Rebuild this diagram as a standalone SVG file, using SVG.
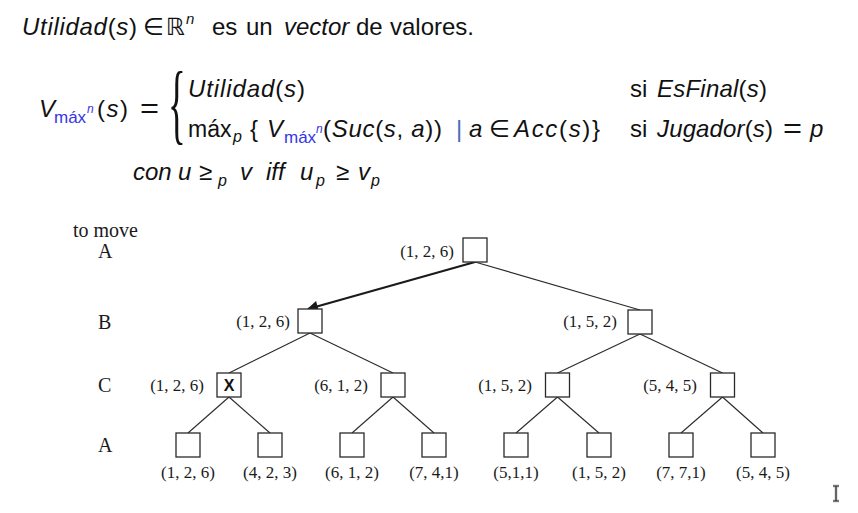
<svg xmlns="http://www.w3.org/2000/svg" width="858" height="513" viewBox="0 0 858 513">
<style>
.m{font-family:"Liberation Sans","DejaVu Sans",sans-serif;font-size:24px;fill:#111}
.i{font-style:italic}
.b{fill:#3535e8}
.bar{fill:#4a6fb5}
.s23{font-size:23px}
.s17{font-size:17px}
.s16{font-size:16px}
.s15{font-size:15px}
.s12{font-size:12px}
.eq{font-size:28px}
.dv{font-family:"DejaVu Sans",sans-serif}
.t{font-family:"Liberation Serif","Times New Roman",serif;font-size:17px;fill:#1a1a1a}
.r{font-family:"Liberation Serif","Times New Roman",serif;font-size:20px;fill:#1a1a1a}
.brace{font-family:"Liberation Serif",serif;font-size:88px;fill:#111}
.x{font-family:"Liberation Sans",sans-serif;font-weight:bold;font-size:16px;fill:#111}
.box{fill:#fff;stroke:#2a2a2a;stroke-width:1.3}
.e{stroke:#2a2a2a;stroke-width:1.1;fill:none}
</style>
<defs>
<marker id="ah" viewBox="0 0 10 10" refX="9" refY="5" markerWidth="6" markerHeight="5" orient="auto" markerUnits="strokeWidth">
<path d="M0,0 L10,5 L0,10 z" fill="#1a1a1a"/>
</marker>
</defs>
<rect width="858" height="513" fill="#fff"/>

<g id="formula">
<text class="m" x="22" y="35" textLength="115"><tspan class="i">Utilidad</tspan>(<tspan class="i">s</tspan>)</text>
<text class="m" y="35"><tspan x="143">∈</tspan><tspan x="166" class="dv">ℝ</tspan></text>
<text class="m i s15" x="186" y="24">n</text>
<text class="m" y="35"><tspan x="212">es</tspan><tspan x="246">un</tspan><tspan x="284" class="i">vector</tspan><tspan x="356">de</tspan><tspan x="390">valores.</tspan></text>

<text class="m i" x="39" y="117">V</text>
<text class="m b s17" x="54" y="123">máx</text>
<text class="m b i s12" x="87" y="113">n</text>
<text class="m" x="97" y="117" textLength="31">(<tspan class="i">s</tspan>)</text>
<text class="m eq" x="140" y="118" textLength="19" lengthAdjust="spacingAndGlyphs">=</text>
<text class="brace" x="0" y="0" transform="translate(168,133) scale(0.42,1)">{</text>

<text class="m" x="188" y="97" textLength="117"><tspan class="i">Utilidad</tspan>(<tspan class="i">s</tspan>)</text>
<text class="m" x="630" y="97">si</text>
<text class="m" x="657" y="97" textLength="110"><tspan class="i">EsFinal</tspan>(<tspan class="i">s</tspan>)</text>

<text class="m s23" x="188" y="137">máx</text>
<text class="m i s16" x="233" y="142">p</text>
<text class="m" x="250" y="137">{</text>
<text class="m i" x="267" y="137">V</text>
<text class="m b s17" x="284" y="143">máx</text>
<text class="m b i s12" x="316" y="133">n</text>
<text class="m" x="323" y="137" textLength="119">(<tspan class="i">Suc</tspan>(<tspan class="i">s</tspan>, <tspan class="i">a</tspan>))</text>
<text class="m bar" x="456" y="137">|</text>
<text class="m i" x="469" y="137">a</text>
<text class="m" x="489" y="137">∈</text>
<text class="m" x="514" y="137" textLength="86"><tspan class="i">Acc</tspan>(<tspan class="i">s</tspan>)}</text>
<text class="m" x="630" y="137">si</text>
<text class="m" x="657" y="137" textLength="116"><tspan class="i">Jugador</tspan>(<tspan class="i">s</tspan>)</text>
<text class="m eq" x="783" y="138" textLength="19" lengthAdjust="spacingAndGlyphs">=</text>
<text class="m i" x="810" y="137">p</text>

<text class="m" y="180"><tspan x="133" class="i">con</tspan><tspan x="178" class="i">u</tspan><tspan x="199">≥</tspan></text>
<text class="m i s16" x="218" y="186">p</text>
<text class="m" y="180"><tspan x="240" class="i">v</tspan><tspan x="266" class="i">iff</tspan><tspan x="300" class="i">u</tspan></text>
<text class="m i s16" x="316" y="186">p</text>
<text class="m" y="180"><tspan x="336">≥</tspan><tspan x="358" class="i">v</tspan></text>
<text class="m i s16" x="371" y="186">p</text>
</g>

<g id="row-labels">
<text class="r" x="73" y="237">to move</text>
<text class="r" x="98" y="258">A</text>
<text class="r" x="98" y="329">B</text>
<text class="r" x="98" y="392">C</text>
<text class="r" x="98" y="452">A</text>
</g>

<g id="connectors">
<line class="e" x1="475" y1="262" x2="640" y2="310"/>
<line x1="475" y1="262" x2="308" y2="309" stroke="#1a1a1a" stroke-width="2.2" marker-end="url(#ah)"/>
<line class="e" x1="310" y1="333" x2="229" y2="373"/>
<line class="e" x1="310" y1="333" x2="393" y2="373"/>
<line class="e" x1="640" y1="334" x2="557.5" y2="373"/>
<line class="e" x1="640" y1="334" x2="722.5" y2="373"/>
<line class="e" x1="229" y1="397" x2="188" y2="433"/>
<line class="e" x1="229" y1="397" x2="270" y2="433"/>
<line class="e" x1="393" y1="397" x2="352" y2="433"/>
<line class="e" x1="393" y1="397" x2="434" y2="433"/>
<line class="e" x1="557.5" y1="397" x2="516" y2="433"/>
<line class="e" x1="557.5" y1="397" x2="599" y2="433"/>
<line class="e" x1="722.5" y1="397" x2="681" y2="433"/>
<line class="e" x1="722.5" y1="397" x2="763" y2="433"/>
</g>

<g id="n-root"><rect class="box" x="463" y="238" width="24" height="24"/><text class="t" x="454" y="257" text-anchor="end">(1, 2, 6)</text></g>
<g id="n-b1"><rect class="box" x="298" y="309" width="24" height="24"/><text class="t" x="290" y="327" text-anchor="end">(1, 2, 6)</text></g>
<g id="n-b2"><rect class="box" x="628" y="310" width="24" height="24"/><text class="t" x="617" y="327" text-anchor="end">(1, 5, 2)</text></g>
<g id="n-c1"><rect class="box" x="217" y="373" width="24" height="24"/><text class="x" x="229" y="391" text-anchor="middle">X</text><text class="t" x="204" y="391" text-anchor="end">(1, 2, 6)</text></g>
<g id="n-c2"><rect class="box" x="381" y="373" width="24" height="24"/><text class="t" x="368" y="391" text-anchor="end">(6, 1, 2)</text></g>
<g id="n-c3"><rect class="box" x="545.5" y="373" width="24" height="24"/><text class="t" x="532" y="391" text-anchor="end">(1, 5, 2)</text></g>
<g id="n-c4"><rect class="box" x="710.5" y="373" width="24" height="24"/><text class="t" x="697" y="391" text-anchor="end">(5, 4, 5)</text></g>
<g id="n-l1"><rect class="box" x="176" y="433" width="24" height="24"/><text class="t" x="188" y="478" text-anchor="middle">(1, 2, 6)</text></g>
<g id="n-l2"><rect class="box" x="258" y="433" width="24" height="24"/><text class="t" x="270" y="478" text-anchor="middle">(4, 2, 3)</text></g>
<g id="n-l3"><rect class="box" x="340" y="433" width="24" height="24"/><text class="t" x="352" y="478" text-anchor="middle">(6, 1, 2)</text></g>
<g id="n-l4"><rect class="box" x="422" y="433" width="24" height="24"/><text class="t" x="434" y="478" text-anchor="middle">(7, 4,1)</text></g>
<g id="n-l5"><rect class="box" x="504" y="433" width="24" height="24"/><text class="t" x="516" y="478" text-anchor="middle">(5,1,1)</text></g>
<g id="n-l6"><rect class="box" x="587" y="433" width="24" height="24"/><text class="t" x="599" y="478" text-anchor="middle">(1, 5, 2)</text></g>
<g id="n-l7"><rect class="box" x="669" y="433" width="24" height="24"/><text class="t" x="681" y="478" text-anchor="middle">(7, 7,1)</text></g>
<g id="n-l8"><rect class="box" x="751" y="433" width="24" height="24"/><text class="t" x="763" y="478" text-anchor="middle">(5, 4, 5)</text></g>

<g id="cursor">
<path d="M833,486 H839 M836,486 V501 M833,501 H839" stroke="#ccc" stroke-width="3" fill="none"/>
<path d="M833,486 H839 M836,486 V501 M833,501 H839" stroke="#222" stroke-width="1.2" fill="none"/>
</g>
</svg>
